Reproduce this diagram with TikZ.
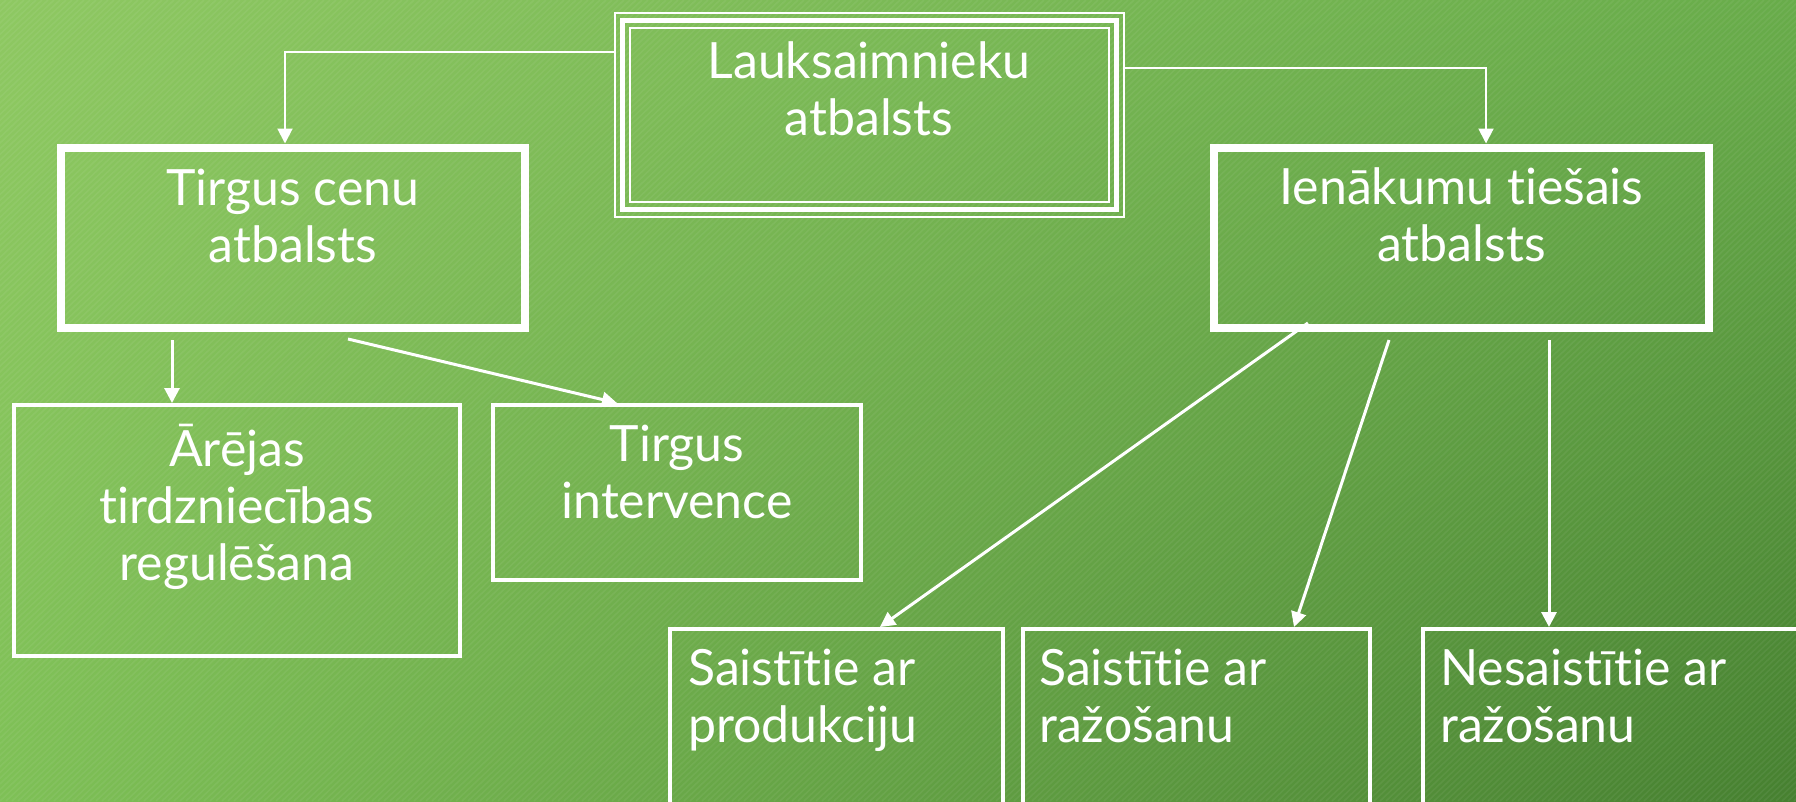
\documentclass[tikz,border=0pt]{standalone}
\usepackage{fontspec}
\setmainfont{Lato}[Ligatures={NoCommon}]
\usetikzlibrary{arrows.meta,shadings}
\definecolor{bgTL}{RGB}{142,200,98}
\definecolor{bgTR}{RGB}{104,172,74}
\definecolor{bgBL}{RGB}{126,192,86}
\definecolor{bgBR}{RGB}{70,128,48}
\begin{document}
\begin{tikzpicture}[x=1pt,y=-1pt,
  box/.style={draw=white, line width=#1, inner sep=0pt, outer sep=0pt, anchor=north west},
  txt/.style={text=white, font=\fontsize{50}{57}\selectfont, align=center, inner sep=0pt, anchor=base},
  ltxt/.style={txt, align=left, anchor=base west},
  arr/.style={draw=white, line width=3pt, -{Triangle[length=15pt,width=15pt]}},
  lnk/.style={arr, line width=2pt}]
\useasboundingbox (0,0) rectangle (1796,801);
% background
\shade[upper left=bgTL, upper right=bgTR, lower left=bgBL, lower right=bgBR] (0,0) rectangle (1796,801);
\begin{scope}
\clip (0,0) rectangle (1796,801);
\foreach \k in {0,6,...,2640} {
  \draw[white, opacity=0.06, line width=1.6pt] (\k-840,801) -- (\k,0);
}
% top box (triple border)
\node[box=5.5pt, minimum width=494pt, minimum height=189pt] (top) at (622.5,20.5) {};
\draw[white, line width=2.5pt] ([shift={(-7.5,-7.5)}]top.north west) rectangle ([shift={(7.5,7.5)}]top.south east);
\draw[white, line width=2.5pt] ([shift={(7.5,7.5)}]top.north west) rectangle ([shift={(-7.5,-7.5)}]top.south east);
\node[txt] (toptxt) at (869,135) {Lauksaimnieku\\atbalsts};
% second level
\node[box=8.5pt, minimum width=464pt, minimum height=180pt] (tc) at (61,148) {};
\node[txt] (tctxt) at (293,262) {Tirgus cenu\\atbalsts};
\node[box=8.5pt, minimum width=495pt, minimum height=180pt] (ia) at (1214,148) {};
\node[txt] (iatxt) at (1461.5,261) {Ienākumu tiešais\\atbalsts};
% third level left
\node[box=4pt, minimum width=446.5pt, minimum height=251pt] (ar) at (13.5,405) {};
\node[txt] (artxt) at (237,580) {Ārējas\\tirdzniecības\\regulēšana};
\node[box=4pt, minimum width=368pt, minimum height=175pt] (ti) at (493,405) {};
\node[txt] (titxt) at (677,518) {Tirgus\\intervence};
% bottom boxes
\node[box=4pt, minimum width=333pt, minimum height=271pt] (sp) at (670,629) {};
\node[ltxt] (sptxt) at (688,742) {Saistītie ar\\produkciju};
\node[box=4pt, minimum width=347pt, minimum height=271pt] (sr) at (1023,629) {};
\node[ltxt] (srtxt) at (1039,742) {Saistītie ar\\ražošanu};
\node[box=4pt, minimum width=477pt, minimum height=271pt] (ns) at (1423,629) {};
\node[ltxt] (nstxt) at (1440,742) {Nesaistītie ar\\ražošanu};
% connectors
\draw[lnk] ([shift={(-9,31.5)}]top.north west) -| ([shift={(-8,-4.5)}]tc.north);
\draw[lnk] ([shift={(8,47.5)}]top.north east) -| ([shift={(24.5,-4.5)}]ia.north);
\draw[arr] ([shift={(111,12)}]tc.south west) -- ([shift={(158.5,-2)}]ar.north west);
\draw[arr] ([shift={(287,11)}]tc.south west) -- ([shift={(124,-2)}]ti.north west);
\draw[arr] ([shift={(94,-5)}]ia.south west) -- ([shift={(210,-2)}]sp.north west);
\draw[arr] ([shift={(175,12)}]ia.south west) -- ([shift={(271,-2)}]sr.north west);
\draw[arr] ([shift={(335,12)}]ia.south west) -- ([shift={(126,-2)}]ns.north west);
\end{scope}
\end{tikzpicture}
\end{document}
